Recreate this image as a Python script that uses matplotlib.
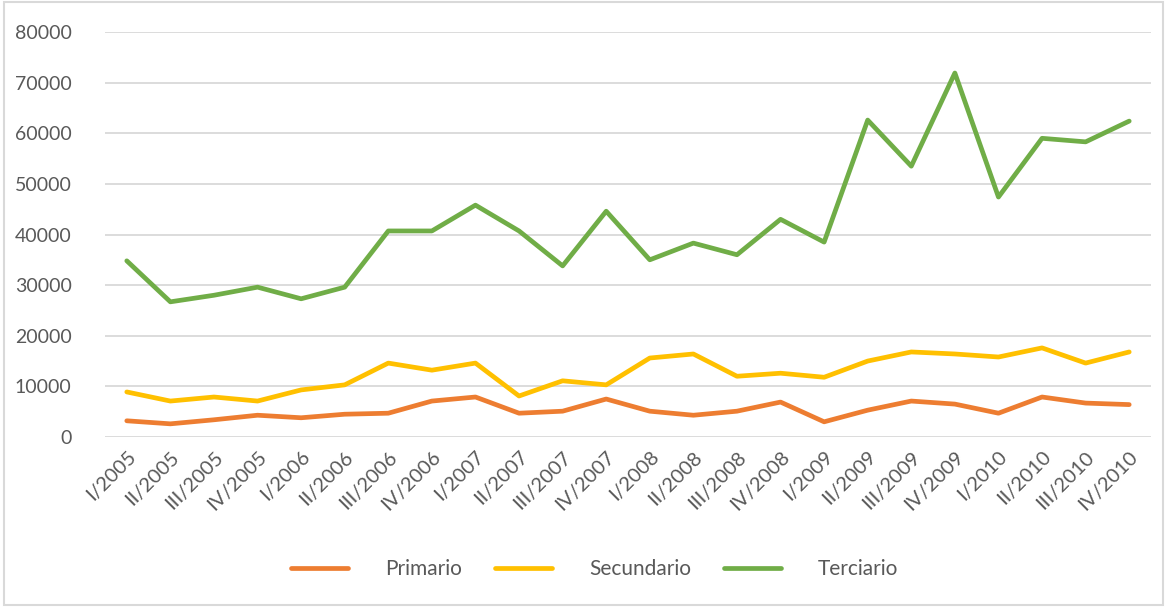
import matplotlib.pyplot as plt
from matplotlib.patches import Rectangle

trimestres = ["I/2005", "II/2005", "III/2005", "IV/2005",
              "I/2006", "II/2006", "III/2006", "IV/2006",
              "I/2007", "II/2007", "III/2007", "IV/2007",
              "I/2008", "II/2008", "III/2008", "IV/2008",
              "I/2009", "II/2009", "III/2009", "IV/2009",
              "I/2010", "II/2010", "III/2010", "IV/2010"]

primario = [3200, 2600, 3400, 4300, 3800, 4500, 4700, 7100,
            7900, 4700, 5100, 7500, 5100, 4300, 5100, 6900,
            3000, 5300, 7100, 6500, 4700, 7900, 6700, 6400]

secundario = [8900, 7100, 7900, 7100, 9300, 10300, 14600, 13200,
              14600, 8100, 11100, 10300, 15600, 16400, 12000, 12600,
              11800, 15000, 16800, 16400, 15800, 17600, 14600, 16800]

terciario = [34800, 26700, 28000, 29600, 27300, 29600, 40700, 40700,
             45800, 40700, 33800, 44600, 35000, 38300, 36000, 43000,
             38500, 62600, 53500, 71900, 47400, 59000, 58300, 62400]

series = [("Primario", primario, "#ED7D31"),
          ("Secundario", secundario, "#FFC000"),
          ("Terciario", terciario, "#70AD47")]

plt.rcParams["font.family"] = ["Lato", "DejaVu Sans"]
gris = "#595959"

fig = plt.figure(figsize=(11.67, 6.07), dpi=100)
ax = fig.add_axes([105 / 1167, 1 - 437 / 607, (1151 - 105) / 1167, (437 - 32) / 607])

x = range(len(trimestres))
for nombre, valores, color in series:
    ax.plot(x, valores, color=color, linewidth=3.4, solid_capstyle="round",
            solid_joinstyle="round", label=nombre)

ax.set_xlim(-0.5, len(trimestres) - 0.5)
ax.set_ylim(0, 80000)
ax.set_yticks(range(0, 80001, 10000))
ax.grid(axis="y", color="#D9D9D9", linewidth=1.3)
ax.set_axisbelow(True)
for s in ax.spines.values():
    s.set_visible(False)

ax.set_xticks(list(x))
ax.set_xticklabels(trimestres, rotation=45, ha="right", rotation_mode="anchor")
ax.tick_params(axis="both", length=0, labelsize=14, colors=gris)
ax.tick_params(axis="x", labelsize=14.5, pad=8)
ax.tick_params(axis="y", pad=24)

fig.legend(loc="center", bbox_to_anchor=(595 / 1167, 1 - 569 / 607), ncol=3,
           frameon=False, fontsize=15, labelcolor=gris, handlelength=2.7,
           handletextpad=1.8, columnspacing=1.6)

fig.patches.append(Rectangle((4 / 1167, 2 / 607), 1159 / 1167, 603 / 607,
                             transform=fig.transFigure, fill=False,
                             edgecolor="#D9D9D9", linewidth=1.5))

fig.savefig("out.png", dpi=100)
